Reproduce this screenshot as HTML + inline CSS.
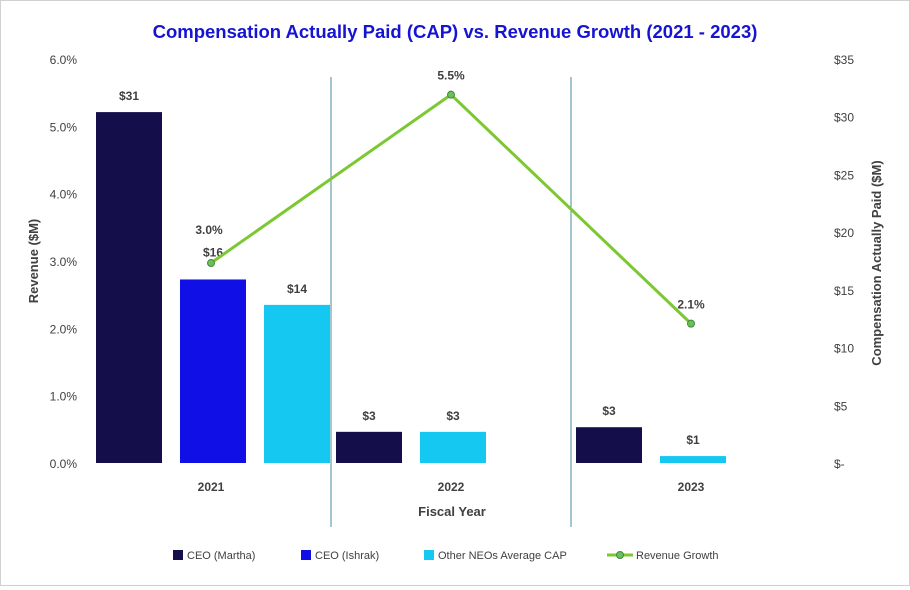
<!DOCTYPE html>
<html><head><meta charset="utf-8"><style>
body{margin:0;background:#fff;}
#wrap{width:910px;height:586px;position:relative;box-sizing:border-box;border:1px solid #d0d0d0;background:#fff;}
svg text{font-family:"Liberation Sans",sans-serif;}
</style></head><body>
<div id="wrap">
<svg id="chart" width="908" height="584"></svg>
</div>
<script>
const categories=["2021","2022","2023"];
const ceoMartha=[30.4,2.7,3.1];
const ceoIshrak=[15.9,null,null];
const otherNeos=[13.7,2.7,0.6];
const revenueGrowth=[2.97,5.47,2.07];
const capLabels=[["$31","$16","$14"],["$3",null,"$3"],["$3",null,"$1"]];
const growthLabels=["3.0%","5.5%","2.1%"];
const leftTicks=[0,1,2,3,4,5,6];
const rightTicks=[0,5,10,15,20,25,30,35];

const NS="http://www.w3.org/2000/svg";
const svg=document.getElementById('chart');
function el(t,a,txt){const e=document.createElementNS(NS,t);for(const k in a)e.setAttribute(k,a[k]);if(txt!=null)e.textContent=txt;svg.appendChild(e);return e;}
const x0=90,catW=240,yBase=462,yTop=58;
const yL=v=>yBase-(v/6)*(yBase-yTop);
const yR=v=>yBase-(v/35)*(yBase-yTop);
const xC=i=>x0+catW*i+catW/2;

let t=el('text',{x:454,y:37,'text-anchor':'middle','font-size':18.5,'font-weight':'bold',fill:'#1414d2'},'Compensation Actually Paid (CAP) vs. Revenue Growth (2021 - 2023)');


leftTicks.forEach(v=>{const e=el('text',{x:76,y:yL(v)+5,'text-anchor':'end','font-size':12,fill:'#404040'},v.toFixed(1)+'%');
});
rightTicks.forEach(v=>{const e=el('text',{x:833,y:yR(v)+5,'font-size':12,fill:'#404040'},v===0?'$-':'$'+v);
});
t=el('text',{transform:'translate(37,260) rotate(-90)','text-anchor':'middle','font-size':13,'font-weight':'bold',fill:'#404040'},'Revenue  ($M)');

t=el('text',{transform:'translate(880,262) rotate(-90)','text-anchor':'middle','font-size':13,'font-weight':'bold',fill:'#404040'},'Compensation Actually Paid ($M)');


for(let i=1;i<categories.length;i++){const e=el('line',{x1:x0+catW*i,x2:x0+catW*i,y1:76,y2:526,stroke:'#4a8e9c','stroke-width':1});
}

const colors=['#140f4b','#1010e6','#14c8f2'];
const series=[ceoMartha,ceoIshrak,otherNeos];
const sNames=['ceo-martha','ceo-ishrak','other-neos'];
categories.forEach((c,i)=>{
 let slot=0;
 series.forEach((s,k)=>{
  if(s[i]==null)return;
  const bx=x0+catW*i+5+slot*84, by=yR(s[i]);
  const r=el('rect',{x:bx,y:by,width:66,height:yBase-by,fill:colors[k]});
  
  const lab=capLabels[i][k];
  if(lab){const off=(i===0&&k===1)?23:12;
  const e=el('text',{x:bx+33,y:by-off,'text-anchor':'middle','font-size':12,'font-weight':'bold',fill:'#404040'},lab);
  }
  slot++;
 });
 const e=el('text',{x:xC(i),y:490,'text-anchor':'middle','font-size':12,'font-weight':'bold',fill:'#404040'},c);
 
});
t=el('text',{x:451,y:515,'text-anchor':'middle','font-size':13,'font-weight':'bold',fill:'#404040'},'Fiscal Year');


const pts=revenueGrowth.map((v,i)=>xC(i)+','+yL(v)).join(' ');
const pl=el('polyline',{points:pts,fill:'none',stroke:'#7cc832','stroke-width':3});

revenueGrowth.forEach((v,i)=>{
 const c=el('circle',{cx:xC(i),cy:yL(v),r:3.5,fill:'#6cbf5a',stroke:'#3d8a3a','stroke-width':1});
 
 const e=el('text',{x:xC(i)+(i===0?-2:0),y:yL(v)-(i===0?29:15),'text-anchor':'middle','font-size':12,'font-weight':'bold',fill:'#404040'},growthLabels[i]);
 
});

const legend=[['CEO (Martha)',colors[0],172],['CEO (Ishrak)',colors[1],300],['Other NEOs Average CAP',colors[2],423]];
legend.forEach(l=>{
 const r=el('rect',{x:l[2],y:549,width:10,height:10,fill:l[1]});
 
 const e=el('text',{x:l[2]+14,y:558,'font-size':11,fill:'#404040'},l[0]);
 
});
let ll=el('line',{x1:606,x2:632,y1:554,y2:554,stroke:'#7cc832','stroke-width':3});

ll=el('circle',{cx:619,cy:554,r:3.5,fill:'#6cbf5a',stroke:'#3d8a3a'});

t=el('text',{x:635,y:558,'font-size':11,fill:'#404040'},'Revenue Growth');

</script>
</body></html>
